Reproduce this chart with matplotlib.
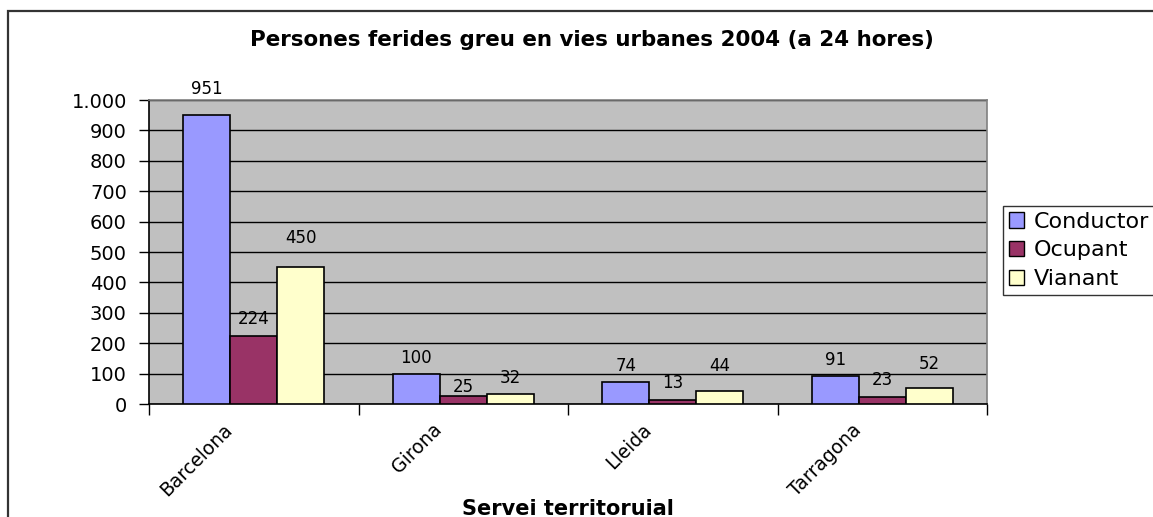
import matplotlib
matplotlib.use("Agg")
import matplotlib.pyplot as plt
import matplotlib.transforms as mtransforms
from matplotlib.patches import Rectangle
from matplotlib.ticker import FixedLocator, FuncFormatter, NullFormatter
import numpy as np

# Data
regions = ["Barcelona", "Girona", "Lleida", "Tarragona"]
series_names = ["Conductor", "Ocupant", "Vianant"]
conductor = [951, 100, 74, 91]
ocupant = [224, 25, 13, 23]
vianant = [450, 32, 44, 52]
y_ticks = [0, 100, 200, 300, 400, 500, 600, 700, 800, 900, 1000]

title = "Persones ferides greu en vies urbanes 2004 (a 24 hores)"
x_title = "Servei territoruial"

# Styling
colors = ["#9999FF", "#993366", "#FFFFCC"]
label_lift_px = [
    [26, 16, 16, 16],
    [17, 9, 17, 17],
    [29, 16, 25, 24],
]

W, H = 1153, 517
fig = plt.figure(figsize=(W / 100, H / 100), dpi=100)
fig.patch.set_facecolor("white")

# Chart-area border
fig.add_artist(Rectangle((8 / W, -0.05), 1.2, 1 - 11 / H + 0.05,
                         transform=fig.transFigure, fill=False,
                         edgecolor="#333333", linewidth=1.6, zorder=0))

left, right, top, bottom = 149, 987, 100, 404
ax = fig.add_axes([left / W, 1 - bottom / H, (right - left) / W, (bottom - top) / H])
ax.set_facecolor("#C0C0C0")

x = np.arange(len(regions))
bw = 0.224
all_series = [conductor, ocupant, vianant]
for k, (vals, name, col) in enumerate(zip(all_series, series_names, colors)):
    xs = x + (k - 1) * bw
    ax.bar(xs, vals, width=bw, color=col, edgecolor="black",
           linewidth=1.2, label=name, zorder=3)
    for xi, v, lift in zip(xs, vals, label_lift_px[k]):
        ax.annotate(f"{v}", xy=(xi, v), xytext=(0, lift),
                    textcoords="offset pixels", ha="center", va="center",
                    fontsize=12, color="black", zorder=5)

ax.set_xlim(-0.5, len(regions) - 0.5)
ax.set_ylim(0, 1000)

# Horizontal gridlines
ax.yaxis.set_major_locator(FixedLocator(y_ticks))
ax.yaxis.set_major_formatter(FuncFormatter(lambda v, p: f"{int(v):,}".replace(",", ".")))
ax.grid(axis="y", color="black", linewidth=1.0, zorder=1)
ax.set_axisbelow(True)

ax.tick_params(axis="y", direction="out", length=7, width=1, pad=9,
               labelsize=14, colors="black")
# Category boundary ticks on the x axis
ax.xaxis.set_major_locator(FixedLocator(np.arange(-0.5, len(regions), 1.0)))
ax.xaxis.set_major_formatter(NullFormatter())
ax.tick_params(axis="x", direction="out", length=8, width=1)

for side in ["top", "right"]:
    ax.spines[side].set_color("#808080")
    ax.spines[side].set_linewidth(1.2)
for side in ["left", "bottom"]:
    ax.spines[side].set_color("black")
    ax.spines[side].set_linewidth(1.2)

# Rotated category names
offset = mtransforms.ScaledTranslation(-31 / 100, -16 / 100, fig.dpi_scale_trans)
for xi, name in zip(x, regions):
    ax.text(xi, 0, name, transform=ax.get_xaxis_transform() + offset,
            rotation=45, rotation_mode="anchor", ha="right", va="top",
            fontsize=13.5)

fig.text(592 / W, 1 - 46 / H, title, ha="center", va="baseline",
         fontsize=15.4, fontweight="bold")
fig.text(568 / W, 1 - 515 / H, x_title, ha="center", va="baseline",
         fontsize=15, fontweight="bold")

leg = fig.legend(loc="upper left", bbox_to_anchor=(1003 / W, 1 - 206 / H),
                 fontsize=16, frameon=True, fancybox=False, shadow=False,
                 borderaxespad=0, borderpad=0.25, labelspacing=0.4,
                 handlelength=0.7, handleheight=0.7, handletextpad=0.45)
leg.get_frame().set_edgecolor("black")
leg.get_frame().set_linewidth(1.0)
for h in leg.legend_handles:
    h.set_linewidth(1.0)

fig.savefig("out.png", dpi=100)
